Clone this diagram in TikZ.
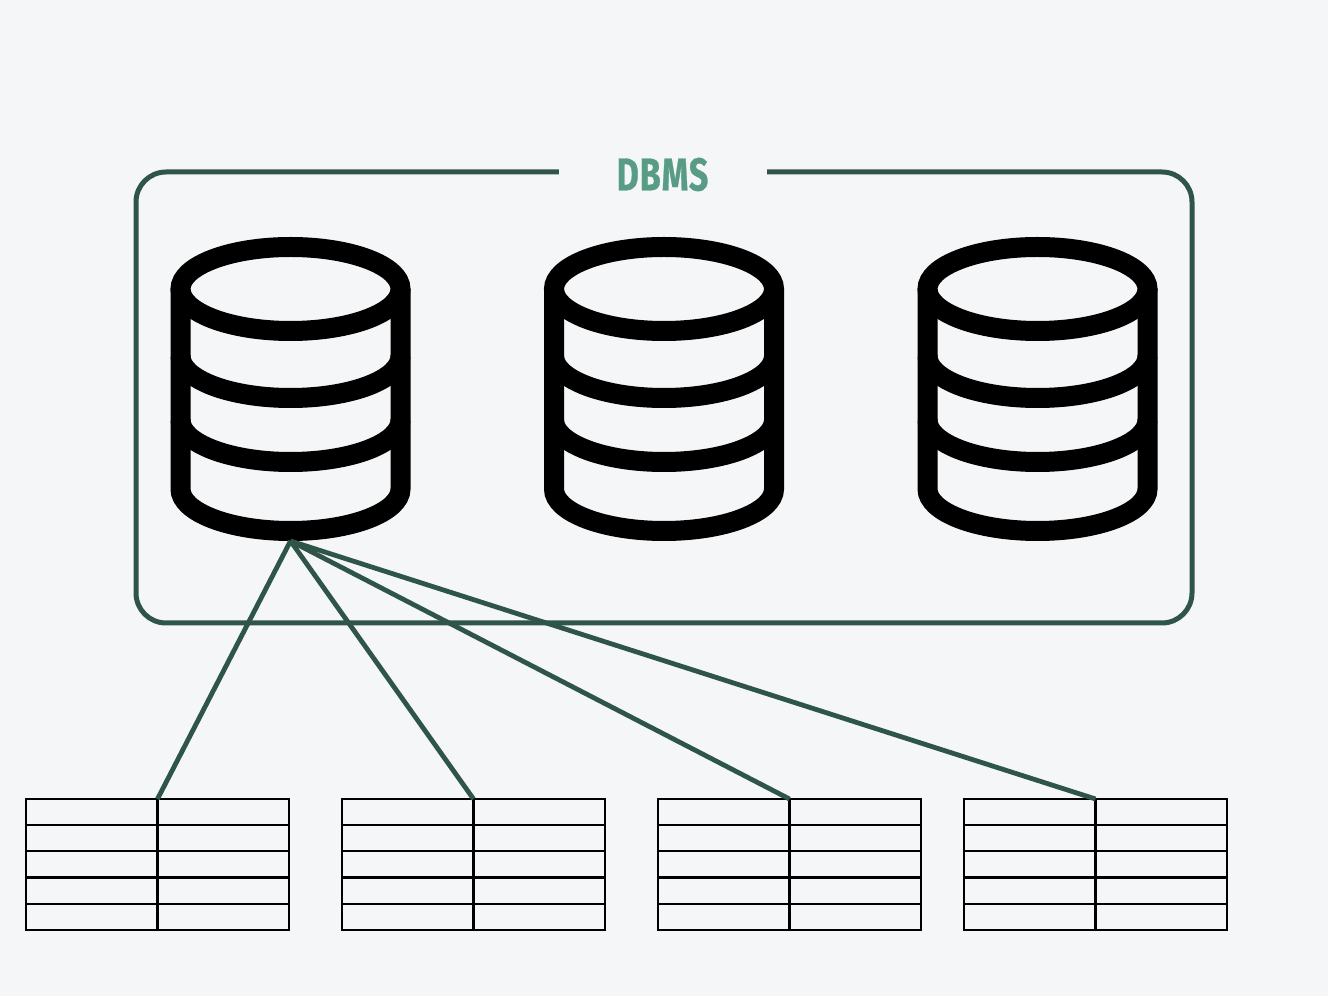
\documentclass[tikz,border=0pt]{standalone}
\usepackage{fontspec}
\usepackage{xcolor}
\usepackage{tikz}
\usetikzlibrary{positioning}
\newfontfamily\titlefont[FakeStretch=0.74,FakeBold=0.6,LetterSpace=2]{Fira Sans Bold}
\definecolor{pagebg}{HTML}{F5F6F8}
\definecolor{framegreen}{HTML}{2F5549}
\definecolor{titlegreen}{HTML}{589C86}
\newcommand{\dbicon}[1]{%
  \begin{scope}[shift={(#1.center)},line width=10pt,black]
  \draw (0,100) ellipse [x radius=110,y radius=42];
  \draw (-110,33) arc [start angle=180,end angle=360,x radius=110,y radius=42];
  \draw (-110,-31) arc [start angle=180,end angle=360,x radius=110,y radius=42];
  \draw (-110,100) -- (-110,-100) arc [start angle=180,end angle=360,x radius=110,y radius=42] -- (110,100);
  \end{scope}}
\newcommand{\tablegrid}[1]{%
  \begin{scope}[shift={(#1.center)},line width=1.1pt,black]
  \draw (-131.5,39.3) -- (131.5,39.3);\draw (-131.5,13.1) -- (131.5,13.1);
  \draw (-131.5,-13.1) -- (131.5,-13.1);\draw (-131.5,-39.3) -- (131.5,-39.3);
  \draw (#1.north) -- (#1.south);
  \end{scope}}
\begin{document}
\begin{tikzpicture}[x=0.5pt,y=0.5pt,
  framebox/.style={rectangle,draw=framegreen,line width=2.5pt,rounded corners=15pt,minimum width=528pt,minimum height=225.5pt,outer sep=0pt},
  titlebox/.style={rectangle,fill=pagebg,text=titlegreen,minimum width=104pt,minimum height=12pt,inner sep=0pt,font=\titlefont\fontsize{23}{23}\selectfont},
  dbbox/.style={rectangle,minimum width=120pt,minimum height=152pt,outer sep=0pt,inner sep=0pt},
  tablebox/.style={rectangle,draw=black,line width=1.1pt,minimum width=131.5pt,minimum height=65.5pt,outer sep=0pt,inner sep=0pt},
  link/.style={draw=framegreen,line width=2.4pt}]
\fill[pagebg] (0,0) rectangle (1328,996);
\useasboundingbox (0,0) rectangle (1328,996);
\node[framebox] (dbms) at (664,598.5) {};
\node[titlebox] (title) at (662.5,821.5) {DBMS};
\node[dbbox] (db1) at (290.5,607) {};
\node[dbbox,right=66.75pt of db1] (db2) {};
\node[dbbox,right=66.75pt of db2] (db3) {};
\node[tablebox] (t1) at (157.5,131.5) {};
\node[tablebox,right=26.5pt of t1] (t2) {};
\node[tablebox,right=26.5pt of t2] (t3) {};
\node[tablebox,right=21.5pt of t3] (t4) {};
\dbicon{db1}\dbicon{db2}\dbicon{db3}
\tablegrid{t1}\tablegrid{t2}\tablegrid{t3}\tablegrid{t4}
\draw[link] (db1.south) -- (t1.north);
\draw[link] (db1.south) -- (t2.north);
\draw[link] (db1.south) -- (t3.north);
\draw[link] (db1.south) -- (t4.north);
\end{tikzpicture}
\end{document}
